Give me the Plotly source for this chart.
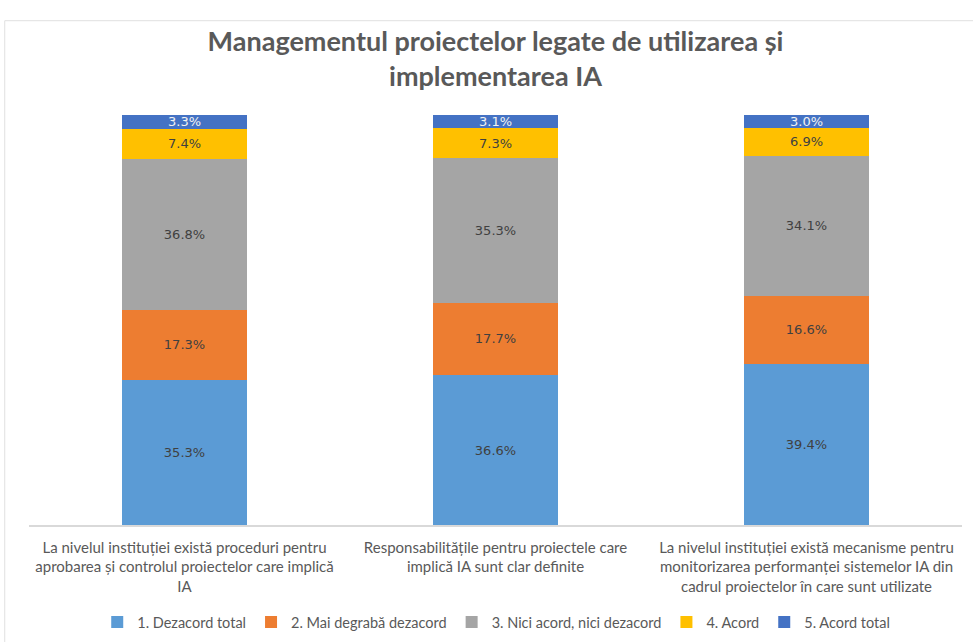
import plotly.graph_objects as go

categories = [
    "La nivelul instituției există proceduri pentru<br>aprobarea și controlul proiectelor care implică<br>IA",
    "Responsabilitățile pentru proiectele care<br>implică IA sunt clar definite",
    "La nivelul instituției există mecanisme pentru<br>monitorizarea performanței sistemelor IA din<br>cadrul proiectelor în care sunt utilizate",
]
series_names = ["1. Dezacord total", "2. Mai degrabă dezacord", "3. Nici acord, nici dezacord", "4. Acord", "5. Acord total"]
dezacord_total = [35.3, 36.6, 39.4]
mai_degraba_dezacord = [17.3, 17.7, 16.6]
nici_acord = [36.8, 35.3, 34.1]
acord = [7.4, 7.3, 6.9]
acord_total = [3.3, 3.1, 3.0]

values = [dezacord_total, mai_degraba_dezacord, nici_acord, acord, acord_total]
colors = ["#5B9BD5", "#ED7D31", "#A5A5A5", "#FFC000", "#4472C4"]
label_colors = ["#404040", "#404040", "#404040", "#404040", "#F2F2F2"]

fig = go.Figure()
for name, vals, col, lc in zip(series_names, values, colors, label_colors):
    fig.add_trace(go.Bar(
        x=categories, y=vals, name=name,
        marker=dict(color=col, line=dict(width=0)),
        texttemplate="%{y:.1f}%", textposition="inside", insidetextanchor="middle",
        constraintext="none",
        textfont=dict(family="DejaVu Sans, sans-serif", size=13, color=lc),
        width=0.4,
    ))

fig.update_layout(
    barmode="stack",
    width=973, height=642,
    margin=dict(l=29, r=11, t=115, b=117, autoexpand=False),
    paper_bgcolor="white", plot_bgcolor="white",
    title=dict(
        text="Managementul proiectelor legate de utilizarea și<br>implementarea IA",
        x=0.5, xref="paper", xanchor="center", y=1 - 51 / 642, yanchor="middle", yref="container",
        font=dict(family="Lato, sans-serif", size=27, color="#595959", weight="bold"),
    ),
    xaxis=dict(
        showline=True, linecolor="#D9D9D9", linewidth=1.5, ticks="", showgrid=False,
        automargin=False, ticklabelstandoff=8,
        tickfont=dict(family="Lato, sans-serif", size=15, color="#595959"),
    ),
    yaxis=dict(range=[0, 100.1], showticklabels=False, showgrid=False, zeroline=False, showline=False,
               automargin=False),
    legend=dict(
        orientation="h", x=0.51, xanchor="center", xref="container",
        y=(642 - 622) / 642, yanchor="middle", yref="container",
        font=dict(family="Lato, sans-serif", size=14.5, color="#595959"),
        traceorder="normal", itemwidth=30,
    ),
    showlegend=True,
)
fig.add_shape(type="rect", xref="paper", yref="paper", x0=-0.026, x1=1.02, y0=-0.3, y1=1.23,
              line=dict(color="#E0E0E0", width=1), fillcolor="rgba(0,0,0,0)", layer="below")

fig.write_html("out.html", config={"displayModeBar": False},
               post_script="document.body.style.margin='0px';")
